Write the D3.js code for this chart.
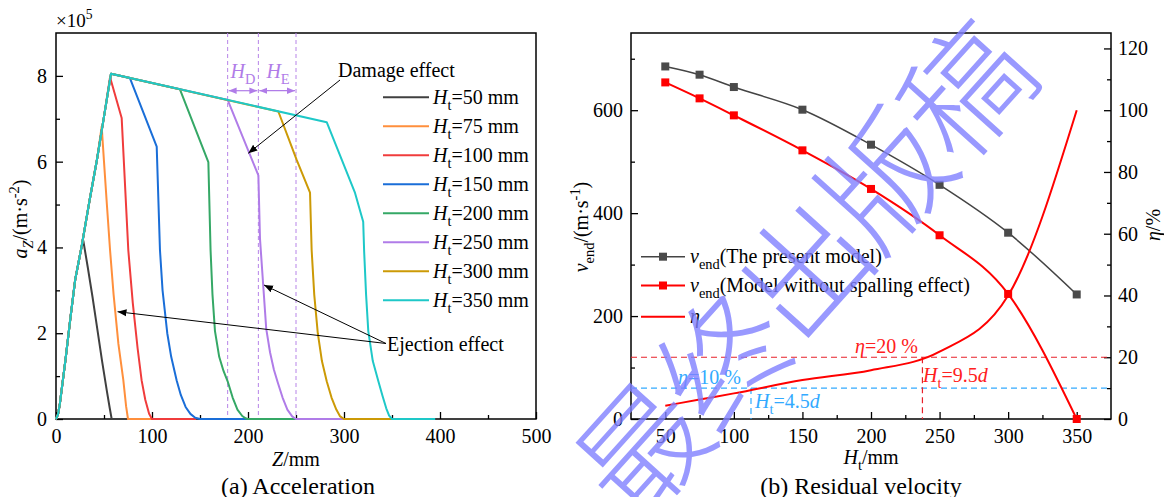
<!DOCTYPE html>
<html>
<head>
<meta charset="utf-8">
<script src="https://cdn.jsdelivr.net/npm/d3@7"></script>
<style>
  body { margin: 0; background: #fff; }
  svg text { font-family: "Liberation Serif", "Times New Roman", serif; }
</style>
</head>
<body>
<script>
// ---------- data: panel (a) acceleration, a in 1e5 m/s^2 vs Z in mm ----------
var heights = [50, 75, 100, 150, 200, 250, 300, 350]
var colors = ['#404040', '#ff8f3c', '#f03c3c', '#1a6ed8', '#35a866', '#b07ce8', '#cc9a06', '#1ec8c8']

// common rising part (Z, a)
var rise = [[0, 0], [2, 0.1], [4, 0.35], [6, 0.7], [8, 1.05], [10, 1.4], [15, 2.35], [20, 3.25], [26.5, 4.0], [35, 5.1], [42.7, 6.05], [50, 7.05], [57.3, 8.05]]

var tail50 = [[28.5, 4.15], [33, 3.55], [38, 2.85], [43, 2.1], [48, 1.35], [53, 0.65], [56, 0.25], [58, 0], [75, 0]]
var tail75 = [[47.6, 6.82], [50, 6.0], [53, 5.0], [56.3, 3.94], [60, 2.9], [65, 1.75], [70.1, 0.91], [73, 0.3], [75, 0], [120, 0]]
var tail100 = [[56.3, 7.97], [68.4, 7.02], [75.3, 3.94], [80, 2.7], [85, 1.65], [89.2, 0.9], [93, 0.45], [97, 0.12], [100, 0], [146, 0]]
var tail150 = [[77, 7.95], [104.9, 6.35], [108.3, 3.94], [111, 3.0], [115.9, 2.0], [120, 1.45], [125.7, 0.9], [130, 0.56], [135, 0.28], [140, 0.12], [145, 0.03], [150, 0], [200, 0]]
var tail200 = [[129, 7.69], [158.7, 5.99], [161, 3.94], [163, 2.9], [165.6, 2.05], [170, 1.45], [174.5, 1.12], [178.8, 0.88], [184, 0.5], [189, 0.22], [194, 0.07], [198, 0.01], [200, 0], [250, 0]]
var tail250 = [[178.8, 7.44], [210.8, 5.68], [212.5, 4.2], [215.9, 3.1], [219, 2.1], [223, 1.55], [227, 1.15], [231, 0.85], [236, 0.5], [241, 0.22], [246, 0.06], [250, 0], [300, 0]]
var tail300 = [[231.6, 7.17], [250.7, 6.04], [264.6, 5.28], [266.3, 3.94], [269, 2.9], [272.7, 2.0], [277, 1.35], [282, 0.88], [287, 0.5], [292, 0.22], [296, 0.06], [300, 0], [350, 0]]
var tail350 = [[282, 6.92], [311.5, 5.27], [320, 4.6], [321, 3.9], [323, 2.9], [325.3, 2.05], [330, 1.35], [335.8, 0.88], [340, 0.55], [344, 0.25], [347, 0.08], [350, 0], [395, 0]]

var accCurves = [
  rise.slice(0, 9).concat(tail50),
  rise.slice(0, 11).concat(tail75),
  rise.slice(0, 12).concat(tail100),
  rise.concat(tail150),
  rise.concat(tail200),
  rise.concat(tail250),
  rise.concat(tail300),
  rise.concat(tail350)
]
var zoneLines = [178.8, 210.8, 250]

// ---------- data: panel (b) residual velocity ----------
var HtR = [50, 75, 100, 150, 200, 250, 300, 350]
var vPresent = [685, 669, 645, 601, 533, 455, 362, 242]
var vNoSpall = [654, 623, 590, 522, 447, 357, 243, 0]
var eta = [4.3, 6.3, 8.3, 12.6, 15.8, 21.8, 40, 100]

// ---------- setup ----------
var svg = d3.select('body').append('svg').attr('width', 1164).attr('height', 497)
  .attr('font-family', 'Liberation Serif')
var FS = 20

var defs = svg.append('defs')
function arrowMarker (id, color, size) {
  defs.append('marker').attr('id', id).attr('viewBox', '0 0 10 10')
    .attr('refX', 10).attr('refY', 5).attr('markerWidth', size).attr('markerHeight', size)
    .attr('markerUnits', 'userSpaceOnUse').attr('orient', 'auto-start-reverse')
    .append('path').attr('d', 'M0,1 L10,5 L0,9 Z').attr('fill', color)
}
arrowMarker('arrBlack', '#000', 9)
arrowMarker('arrPurple', '#b07ce8', 8)

function rich (g, x, y, parts, o) {
  var t = g.append('text').attr('x', x).attr('y', y).attr('font-size', o.size)
    .attr('fill', o.fill || '#000').attr('text-anchor', o.anchor || 'start')
  if (o.rotate) t.attr('transform', 'rotate(' + o.rotate + ',' + x + ',' + y + ')')
  var shift = 0
  parts.forEach(function (p) {
    var st = p[1] || ''
    var ts = t.append('tspan').text(p[0])
    var target = 0
    if (st.indexOf('i') >= 0) ts.attr('font-style', 'italic')
    if (st.indexOf('s') >= 0) { ts.attr('font-size', o.size * 0.72); target = o.size * 0.3 }
    if (st.indexOf('p') >= 0) { ts.attr('font-size', o.size * 0.72); target = -o.size * 0.42 }
    if (target - shift !== 0) ts.attr('dy', target - shift)
    shift = target
  })
  return t
}

function drawAxis (g, axisFn, scale, major, minor, pad, tx, ty) {
  var a = g.append('g').attr('transform', 'translate(' + tx + ',' + ty + ')')
    .call(axisFn(scale).tickValues(major).tickSize(-7).tickPadding(pad).tickFormat(d3.format('d')))
  a.select('.domain').remove()
  a.attr('font-size', FS).attr('font-family', 'Liberation Serif')
  a.selectAll('line').attr('stroke-width', 1.3)
  if (minor) {
    var m = g.append('g').attr('transform', 'translate(' + tx + ',' + ty + ')')
      .call(axisFn(scale).tickValues(minor).tickSize(-4).tickFormat(''))
    m.select('.domain').remove()
    m.selectAll('line').attr('stroke-width', 1.3)
  }
}

// ================= panel (a) =================
var xA = d3.scaleLinear().domain([0, 500]).range([56, 536])
var yA = d3.scaleLinear().domain([0, 9]).range([419, 33])
var gA = svg.append('g')

gA.append('rect').attr('x', 56).attr('y', 33).attr('width', 480).attr('height', 386)
  .attr('fill', 'none').attr('stroke', '#000').attr('stroke-width', 1.5)

drawAxis(gA, d3.axisBottom, xA, [0, 100, 200, 300, 400, 500], [50, 150, 250, 350, 450], 10, 0, 419)
drawAxis(gA, d3.axisLeft, yA, [0, 2, 4, 6, 8], [1, 3, 5, 7], 9, 56, 0)

// zone lines
gA.selectAll('.zone').data(zoneLines).enter().append('line')
  .attr('x1', function (d) { return xA(d) }).attr('x2', function (d) { return xA(d) })
  .attr('y1', 33).attr('y2', 419)
  .attr('stroke', '#b784e8').attr('stroke-width', 1).attr('stroke-dasharray', '4,3')

var lineA = d3.line().x(function (d) { return xA(d[0]) }).y(function (d) { return yA(d[1]) })
gA.selectAll('.acc').data(accCurves).enter().append('path')
  .attr('d', lineA).attr('fill', 'none')
  .attr('stroke', function (d, i) { return colors[i] })
  .attr('stroke-width', 2).attr('stroke-linejoin', 'round')

// H_D / H_E arrows
var yArr = 90.7
gA.append('line').attr('x1', xA(zoneLines[0]) + 1).attr('x2', xA(zoneLines[1]) - 1).attr('y1', yArr).attr('y2', yArr)
  .attr('stroke', '#b07ce8').attr('stroke-width', 1.2)
  .attr('marker-start', 'url(#arrPurple)').attr('marker-end', 'url(#arrPurple)')
gA.append('line').attr('x1', xA(zoneLines[1]) + 1).attr('x2', xA(zoneLines[2]) - 1).attr('y1', yArr).attr('y2', yArr)
  .attr('stroke', '#b07ce8').attr('stroke-width', 1.2)
  .attr('marker-start', 'url(#arrPurple)').attr('marker-end', 'url(#arrPurple)')
rich(gA, 243, 78, [['H', 'i'], ['D', 's']], { size: FS, fill: '#b07ce8', anchor: 'middle' })
rich(gA, 278, 78, [['H', 'i'], ['E', 's']], { size: FS, fill: '#b07ce8', anchor: 'middle' })

// annotations
gA.append('text').attr('x', 338).attr('y', 77).attr('font-size', FS).text('Damage effect')
gA.append('line').attr('x1', 340).attr('y1', 80).attr('x2', 248.3).attr('y2', 153.3)
  .attr('stroke', '#000').attr('stroke-width', 1).attr('marker-end', 'url(#arrBlack)')
gA.append('text').attr('x', 387).attr('y', 351).attr('font-size', FS).text('Ejection effect')
gA.append('line').attr('x1', 386).attr('y1', 343.5).attr('x2', 117.5).attr('y2', 311.7)
  .attr('stroke', '#000').attr('stroke-width', 1).attr('marker-end', 'url(#arrBlack)')
gA.append('line').attr('x1', 386).attr('y1', 343.5).attr('x2', 264).attr('y2', 285)
  .attr('stroke', '#000').attr('stroke-width', 1).attr('marker-end', 'url(#arrBlack)')

// legend (a)
var legA = gA.append('g')
heights.forEach(function (h, i) {
  var y = 97.3 + i * 29
  legA.append('line').attr('x1', 383).attr('x2', 429).attr('y1', y).attr('y2', y)
    .attr('stroke', colors[i]).attr('stroke-width', 2)
  rich(legA, 433, y + 7, [['H', 'i'], ['t', 's'], ['=' + h + ' mm', '']], { size: FS })
})

// axis labels (a)
rich(gA, 56, 27, [['\u00d710'], ['5', 'p']], { size: FS - 1 })
rich(gA, 27, 219, [['a', 'i'], ['Z', 'is'], ['/(m\u00b7s'], ['-2', 'p'], [')']], { size: FS, anchor: 'middle', rotate: -90 })
rich(gA, 296, 466, [['Z', 'i'], ['/mm']], { size: FS, anchor: 'middle' })
gA.append('text').attr('x', 298).attr('y', 494).attr('font-size', 24).attr('text-anchor', 'middle').text('(a) Acceleration')

// ================= panel (b) =================
var xB = d3.scaleLinear().domain([25, 375]).range([631, 1111])
var yB = d3.scaleLinear().domain([0, 750]).range([419, 33])
var yE = d3.scaleLinear().domain([0, 125]).range([419, 33])
var gB = svg.append('g')

gB.append('rect').attr('x', 631).attr('y', 33).attr('width', 480).attr('height', 386)
  .attr('fill', 'none').attr('stroke', '#000').attr('stroke-width', 1.5)

drawAxis(gB, d3.axisBottom, xB, [50, 100, 150, 200, 250, 300, 350], [75, 125, 175, 225, 275, 325], 10, 0, 419)
drawAxis(gB, d3.axisLeft, yB, [0, 200, 400, 600], [100, 300, 500, 700], 8, 631, 0)
drawAxis(gB, d3.axisRight, yE, [0, 20, 40, 60, 80, 100, 120], [10, 30, 50, 70, 90, 110], 7, 1111, 0)

// reference lines
var blue = '#33aaff'
gB.append('line').attr('x1', 631).attr('x2', 1111).attr('y1', yE(20)).attr('y2', yE(20))
  .attr('stroke', '#e8202a').attr('stroke-width', 1.2).attr('stroke-dasharray', '6,4')
gB.append('line').attr('x1', 631).attr('x2', 1111).attr('y1', yE(10)).attr('y2', yE(10))
  .attr('stroke', blue).attr('stroke-width', 1.2).attr('stroke-dasharray', '6,4')
gB.append('line').attr('x1', xB(237.5)).attr('x2', xB(237.5)).attr('y1', yE(20)).attr('y2', 419)
  .attr('stroke', '#e8202a').attr('stroke-width', 1.2).attr('stroke-dasharray', '6,4')
gB.append('line').attr('x1', xB(112.5)).attr('x2', xB(112.5)).attr('y1', yE(10)).attr('y2', 419)
  .attr('stroke', blue).attr('stroke-width', 1.2).attr('stroke-dasharray', '6,4')

rich(gB, 855, 353, [['\u03b7', 'i'], ['=20 %']], { size: FS, fill: '#ff2020' })
rich(gB, 678, 384, [['\u03b7', 'i'], ['=10 %']], { size: FS, fill: blue })
rich(gB, 755, 408, [['H', 'i'], ['t', 's'], ['=4.5'], ['d', 'i']], { size: FS, fill: blue })
rich(gB, 923, 382, [['H', 'i'], ['t', 's'], ['=9.5'], ['d', 'i']], { size: FS, fill: '#ff2020' })

var lineV = d3.line().curve(d3.curveMonotoneX)
  .x(function (d, i) { return xB(HtR[i]) }).y(function (d) { return yB(d) })
var lineE = d3.line().curve(d3.curveMonotoneX)
  .x(function (d, i) { return xB(HtR[i]) }).y(function (d) { return yE(d) })

gB.append('path').attr('d', lineV(vPresent)).attr('fill', 'none').attr('stroke', '#444').attr('stroke-width', 1.5)
gB.append('path').attr('d', lineV(vNoSpall)).attr('fill', 'none').attr('stroke', '#ff0000').attr('stroke-width', 2)
gB.append('path').attr('d', lineE(eta)).attr('fill', 'none').attr('stroke', '#ff0000').attr('stroke-width', 2)

gB.selectAll('.mP').data(vPresent).enter().append('rect')
  .attr('x', function (d, i) { return xB(HtR[i]) - 4 }).attr('y', function (d) { return yB(d) - 4 })
  .attr('width', 8).attr('height', 8).attr('fill', '#4a4a4a')
gB.selectAll('.mN').data(vNoSpall).enter().append('rect')
  .attr('x', function (d, i) { return xB(HtR[i]) - 4 }).attr('y', function (d) { return yB(d) - 4 })
  .attr('width', 8).attr('height', 8).attr('fill', '#ff0000')

// legend (b)
var legB = gB.append('g')
var legRows = [
  { y: 256.7, color: '#444', w: 1.5, mark: true, parts: [['v', 'i'], ['end', 's'], ['(The present model)']] },
  { y: 285.5, color: '#ff0000', w: 2, mark: true, parts: [['v', 'i'], ['end', 's'], ['(Model without spalling effect)']] },
  { y: 316.7, color: '#ff0000', w: 2, mark: false, parts: [['\u03b7', 'i']] }
]
legRows.forEach(function (r) {
  legB.append('line').attr('x1', 641).attr('x2', 685).attr('y1', r.y).attr('y2', r.y)
    .attr('stroke', r.color).attr('stroke-width', r.w)
  if (r.mark) {
    legB.append('rect').attr('x', 659).attr('y', r.y - 4).attr('width', 8).attr('height', 8)
      .attr('fill', r.color === '#444' ? '#4a4a4a' : r.color)
  }
  rich(legB, 690, r.y + 6, r.parts, { size: FS })
})

// axis labels (b)
rich(gB, 588, 227, [['v', 'i'], ['end', 's'], ['/(m\u00b7s'], ['-1', 'p'], [')']], { size: FS, anchor: 'middle', rotate: -90 })
rich(gB, 1160, 225, [['\u03b7', 'i'], ['/%']], { size: FS, anchor: 'middle', rotate: -90 })
rich(gB, 871, 464, [['H', 'i'], ['t', 's'], ['/mm']], { size: FS, anchor: 'middle' })
gB.append('text').attr('x', 861).attr('y', 494).attr('font-size', 24).attr('text-anchor', 'middle').text('(b) Residual velocity')

// watermark
svg.append('g').attr('transform', 'translate(797,266) rotate(-48)')
  .append('text').attr('text-anchor', 'middle').attr('dominant-baseline', 'central')
  .attr('font-size', 126).attr('letter-spacing', -5).attr('font-weight', 200)
  .attr('fill', '#8080ff').attr('opacity', 0.8)
  .style('font-family', '"Noto Sans CJK SC"')
  .text('最终出版稿')
</script>
</body>
</html>
